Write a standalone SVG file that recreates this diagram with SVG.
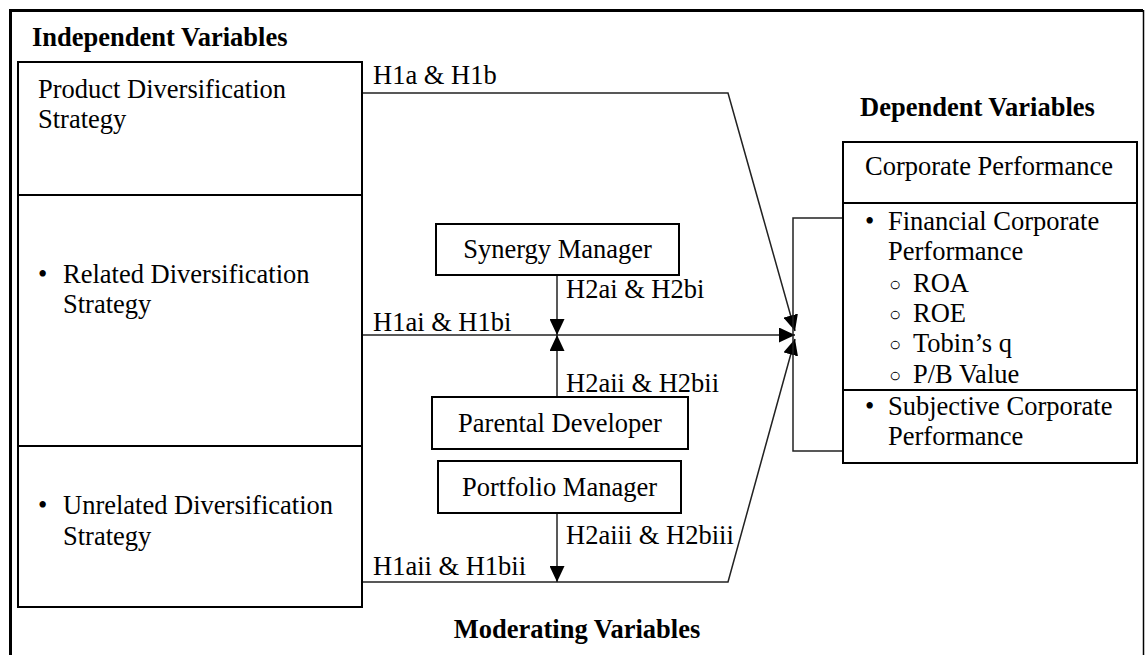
<svg xmlns="http://www.w3.org/2000/svg" width="1146" height="655" viewBox="0 0 1146 655">
<style>
text{font-family:"Liberation Serif","Times New Roman",serif;font-size:26.5px;fill:#000}
.b{font-weight:bold}
.o{font-size:20px}
.box{fill:#fff;stroke:#000;stroke-width:2}
.ln{fill:none;stroke:#222;stroke-width:1.5}
</style>
<defs>
<marker id="ah" markerUnits="userSpaceOnUse" markerWidth="16" markerHeight="15" refX="16" refY="7.5" orient="auto">
<path d="M0,0 L16,7.5 L0,15 z" fill="#000"/>
</marker>
</defs>
<rect width="1146" height="655" fill="#fff"/>
<g id="frame">
<path d="M10.5,655 V10.5 H1143" fill="none" stroke="#000" stroke-width="3"/>
<path d="M1143.5,10 V655" fill="none" stroke="#000" stroke-width="1.5"/>
</g>
<text class="b" x="32" y="46">Independent Variables</text>
<text class="b" x="860" y="116">Dependent Variables</text>
<text class="b" x="577" y="638" text-anchor="middle">Moderating Variables</text>
<g id="connectors">
<path class="ln" d="M362,93 H728 L795,331" marker-end="url(#ah)"/>
<path class="ln" d="M362,335 H795" marker-end="url(#ah)"/>
<path class="ln" d="M362,582 H728 L795,339" marker-end="url(#ah)"/>
<path class="ln" d="M557,275 V335" marker-end="url(#ah)"/>
<path class="ln" d="M557,397 V335" marker-end="url(#ah)"/>
<path class="ln" d="M557,513 V582" marker-end="url(#ah)"/>
<path class="ln" d="M843,218 H793 V451 H843"/>
<text x="373" y="84">H1a &amp; H1b</text>
<text x="373" y="331">H1ai &amp; H1bi</text>
<text x="373" y="575">H1aii &amp; H1bii</text>
<text x="566" y="298">H2ai &amp; H2bi</text>
<text x="566" y="392">H2aii &amp; H2bii</text>
<text x="566" y="544">H2aiii &amp; H2biii</text>
</g>
<g id="product">
<rect class="box" x="18" y="62" width="344" height="133"/>
<text x="38" y="98">Product Diversification</text>
<text x="38" y="128">Strategy</text>
</g>
<g id="related">
<rect class="box" x="18" y="195" width="344" height="251"/>
<text x="38" y="283">•</text>
<text x="63" y="283">Related Diversification</text>
<text x="63" y="313">Strategy</text>
</g>
<g id="unrelated">
<rect class="box" x="18" y="446" width="344" height="161"/>
<text x="38" y="514">•</text>
<text x="63" y="514">Unrelated Diversification</text>
<text x="63" y="545">Strategy</text>
</g>
<g id="synergy">
<rect class="box" x="436" y="224" width="243" height="51"/>
<text x="557.5" y="258" text-anchor="middle">Synergy Manager</text>
</g>
<g id="parental">
<rect class="box" x="432" y="397" width="256" height="52"/>
<text x="560" y="432" text-anchor="middle">Parental Developer</text>
</g>
<g id="portfolio">
<rect class="box" x="438" y="461" width="243" height="52"/>
<text x="559.5" y="496" text-anchor="middle">Portfolio Manager</text>
</g>
<g id="performance">
<rect class="box" x="843" y="142" width="294" height="61"/>
<text x="865" y="175">Corporate Performance</text>
</g>
<g id="financial">
<rect class="box" x="843" y="203" width="294" height="187"/>
<text x="865" y="230">•</text>
<text x="888" y="230">Financial Corporate</text>
<text x="888" y="260">Performance</text>
<text x="889" y="291"><tspan class="o">○</tspan><tspan x="913" y="292">ROA</tspan></text>
<text x="889" y="321"><tspan class="o">○</tspan><tspan x="913" y="322">ROE</tspan></text>
<text x="889" y="351"><tspan class="o">○</tspan><tspan x="913" y="352">Tobin’s q</tspan></text>
<text x="889" y="382"><tspan class="o">○</tspan><tspan x="913" y="383">P/B Value</tspan></text>
</g>
<g id="subjective">
<rect class="box" x="843" y="390" width="294" height="73"/>
<text x="865" y="415">•</text>
<text x="888" y="415">Subjective Corporate</text>
<text x="888" y="445">Performance</text>
</g>
</svg>
